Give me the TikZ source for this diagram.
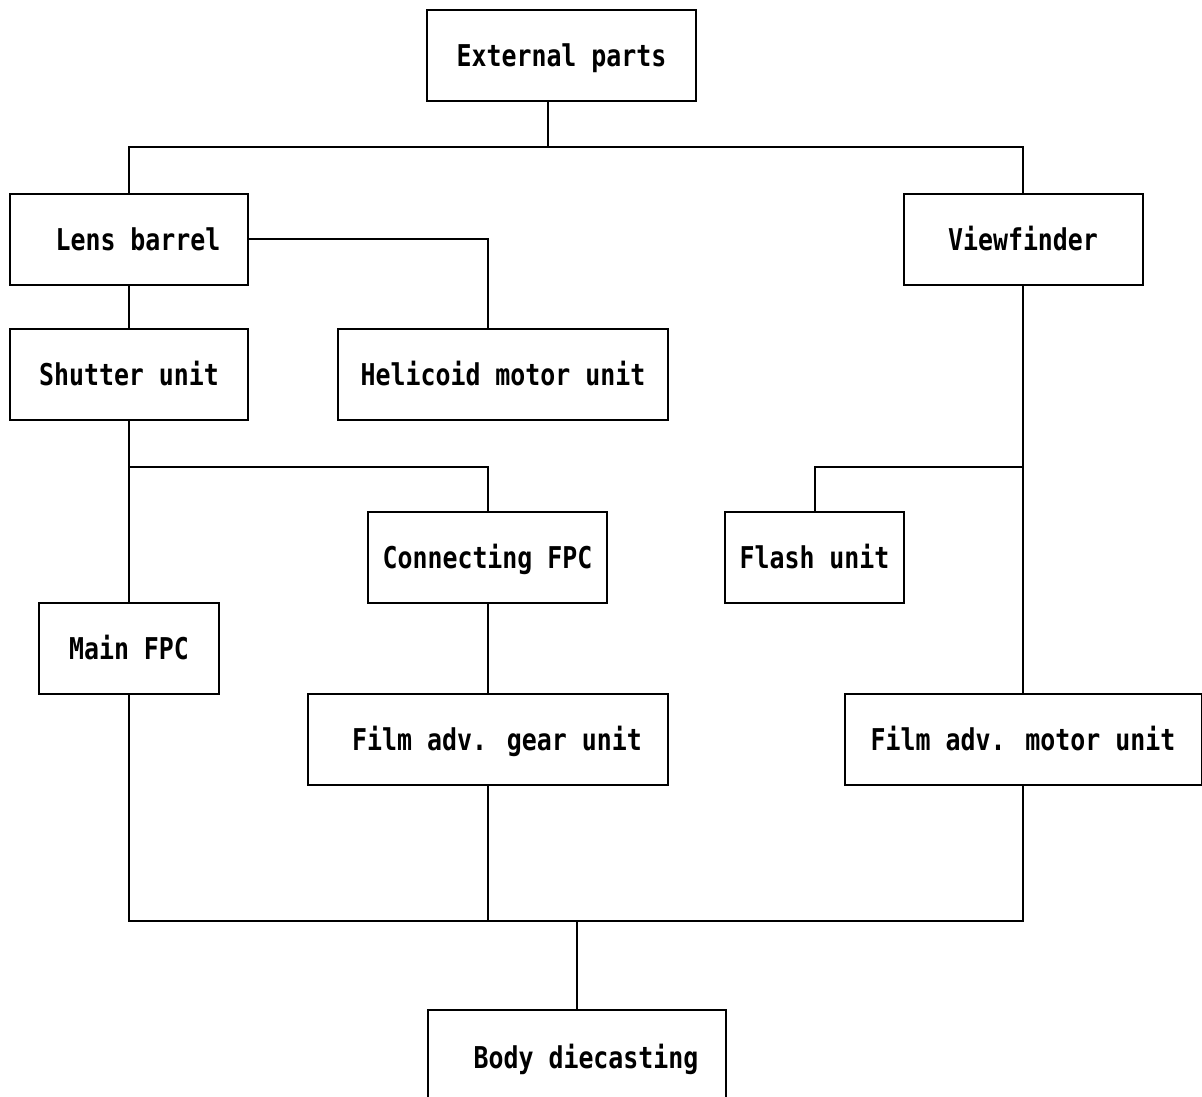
\documentclass[tikz,border=0pt]{standalone}
\usepackage{fontspec}
\newfontfamily\partfont[FakeStretch=0.83]{DejaVu Sans Mono}
\begin{document}
\begin{tikzpicture}[x=1pt,y=-1pt,line width=2pt,
  unitbox/.style={draw,line width=2pt,inner sep=0pt,minimum height=91,
    text height=22pt,text depth=0pt,
    font=\partfont\bfseries\fontsize{30}{36}\selectfont}]
  \useasboundingbox [fill=white] (0,0) rectangle (1202,1097);
  \node [unitbox,minimum width=269] (ext) at (561.5,55.5) {External parts};
  \node [unitbox,minimum width=238] (lens) at (129,239) {\hspace{18pt}Lens barrel};
  \node [unitbox,minimum width=239] (view) at (1023,239) {Viewfinder};
  \node [unitbox,minimum width=238] (shut) at (129,374.5) {Shutter unit};
  \node [unitbox,minimum width=330] (heli) at (503,374.5) {Helicoid motor unit};
  \node [unitbox,minimum width=239] (conn) at (487.5,557) {Connecting FPC};
  \node [unitbox,minimum width=179] (flash) at (814.5,557.5) {Flash unit};
  \node [unitbox,minimum width=180] (main) at (129,648.5) {Main FPC};
  \node [unitbox,minimum width=360] (gear) at (488,739) {\hspace{18pt}Film adv. gear unit};
  \node [unitbox,minimum width=357] (motor) at (1023,739.5) {Film adv. motor unit};
  \node [unitbox,minimum width=298,minimum height=95] (body) at (577,1057.5) {\hspace{18pt}Body diecasting};
  \coordinate (topj) at (548,147);
  \coordinate (botj) at (577,921);
  \draw (ext.south -| topj) -- (topj);
  \draw (lens.north) -- (lens.north |- topj) -- (view.north |- topj) -- (view.north);
  \draw (lens.east) -| (conn.north |- heli.north);
  \draw (lens.south) -- (shut.north);
  \draw (shut.south) -- (main.north);
  \draw (shut.south) ++(0,46) -| (conn.north);
  \draw (conn.south) -- (gear.north -| conn.south);
  \draw (view.south) -- (motor.north);
  \draw (view.south) ++(0,181) -| (flash.north);
  \draw (main.south) |- (motor.south |- botj) -- (motor.south);
  \draw (gear.south) -- (gear.south |- botj);
  \draw (botj) -- (body.north);
\end{tikzpicture}
\end{document}
